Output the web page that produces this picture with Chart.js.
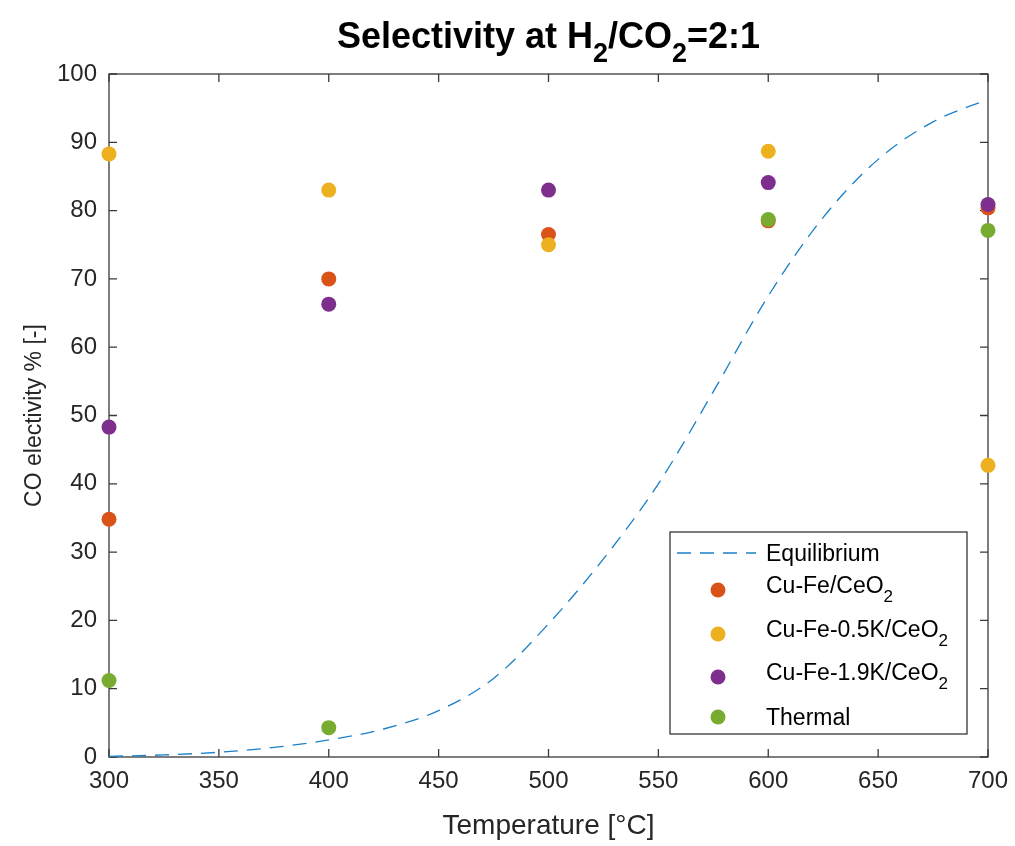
<!DOCTYPE html>
<html>
<head>
<meta charset="utf-8">
<script src="https://cdn.jsdelivr.net/npm/chart.js@4.4.0/dist/chart.umd.min.js"></script>
<style>
    html, body { margin: 0; padding: 0; background: #fff; }
    #wrap { width: 1015px; height: 846px; }
</style>
</head>
<body>
<div id="wrap"><canvas id="graficoSeletividade" width="1015" height="846"></canvas></div>
<script>
// measured selectivity per catalyst (null = no measurement)
const temperaturas = [300, 400, 500, 600, 700];
const cuFe = [34.8, 70.0, 76.5, 78.5, 80.4];
const cuFe05K = [88.3, 83.0, 75.0, 88.7, 42.7];
const cuFe19K = [48.3, 66.3, 83.0, 84.1, 80.9];
const thermal = [11.2, 4.3, null, 78.7, 77.1];

// equilibrium curve
const eqTemperaturas = [300, 325, 350, 375, 400, 425, 450, 475, 500, 525, 550, 575, 600, 625, 650, 675, 700];
const eqValores = [0.1, 0.3, 0.7, 1.4, 2.5, 4.1, 6.8, 11.5, 19.5, 29.0, 40.0, 53.5, 67.5, 79.0, 87.5, 93.0, 96.3];

const xTicks = [300, 350, 400, 450, 500, 550, 600, 650, 700];
const yTicks = [0, 10, 20, 30, 40, 50, 60, 70, 80, 90, 100];

const FONTE = "'Liberation Sans', Arial, Helvetica, sans-serif";
const COR_EIXO = '#262626';

const cores = {
    equilibrio: '#1a80c8',
    cuFe: '#D95319',
    cuFe05K: '#EDB120',
    cuFe19K: '#7E2F8E',
    thermal: '#77AC30',
};

function pontos(xs, ys) {
    return xs.map((x, i) => ({ x: x, y: ys[i] })).filter(p => p.y !== null);
}

// text with subscripts: partes = [[texto, subscrito], ...]
function larguraRica(ctx, partes, tamanho, peso) {
    let w = 0;
    partes.forEach(([t, sub]) => {
        ctx.font = `${peso} ${sub ? Math.round(tamanho * 0.75) : tamanho}px ${FONTE}`;
        w += ctx.measureText(t).width;
    });
    return w;
}

function desenhaRico(ctx, partes, x, y, tamanho, peso, cor) {
    ctx.fillStyle = cor;
    ctx.textBaseline = 'alphabetic';
    ctx.textAlign = 'left';
    let cx = x;
    partes.forEach(([t, sub]) => {
        const tam = sub ? Math.round(tamanho * 0.75) : tamanho;
        ctx.font = `${peso} ${tam}px ${FONTE}`;
        ctx.fillText(t, cx, sub ? y + tamanho * 0.38 : y);
        cx += ctx.measureText(t).width;
    });
}

const molduraEixos = {
    id: 'molduraEixos',
    beforeDatasetsDraw(chart) {
        const { ctx, chartArea: a, scales } = chart;
        const tick = 8;
        ctx.save();
        ctx.strokeStyle = '#3a3a3a';
        ctx.lineWidth = 1.3;
        ctx.strokeRect(a.left, a.top, a.right - a.left, a.bottom - a.top);
        ctx.beginPath();
        xTicks.forEach(v => {
            const px = scales.x.getPixelForValue(v);
            ctx.moveTo(px, a.bottom); ctx.lineTo(px, a.bottom - tick);
            ctx.moveTo(px, a.top); ctx.lineTo(px, a.top + tick);
        });
        yTicks.forEach(v => {
            const py = scales.y.getPixelForValue(v);
            ctx.moveTo(a.left, py); ctx.lineTo(a.left + tick, py);
            ctx.moveTo(a.right, py); ctx.lineTo(a.right - tick, py);
        });
        ctx.stroke();
        ctx.restore();
    }
};

const tituloLegenda = {
    id: 'tituloLegenda',
    afterDraw(chart) {
        const { ctx, chartArea: a } = chart;
        ctx.save();

        // title
        const titulo = [['Selectivity at H', false], ['2', true], ['/CO', false], ['2', true], ['=2:1', false]];
        const tTam = 36;
        const tw = larguraRica(ctx, titulo, tTam, 'bold');
        desenhaRico(ctx, titulo, (a.left + a.right) / 2 - tw / 2, 48, tTam, 'bold', '#000');

        // legend
        const box = { x: 670, y: 532, w: 297, h: 202 };
        ctx.fillStyle = '#fff';
        ctx.fillRect(box.x, box.y, box.w, box.h);
        ctx.strokeStyle = COR_EIXO;
        ctx.lineWidth = 1.2;
        ctx.strokeRect(box.x, box.y, box.w, box.h);

        const lTam = 23;
        const textoX = 766;
        const entradas = [
            { tipo: 'linha', cor: cores.equilibrio, y: 553, texto: [['Equilibrium', false]] },
            { tipo: 'ponto', cor: cores.cuFe, y: 590, texto: [['Cu-Fe/CeO', false], ['2', true]] },
            { tipo: 'ponto', cor: cores.cuFe05K, y: 634, texto: [['Cu-Fe-0.5K/CeO', false], ['2', true]] },
            { tipo: 'ponto', cor: cores.cuFe19K, y: 677, texto: [['Cu-Fe-1.9K/CeO', false], ['2', true]] },
            { tipo: 'ponto', cor: cores.thermal, y: 717, texto: [['Thermal', false]] },
        ];
        entradas.forEach(e => {
            if (e.tipo === 'linha') {
                ctx.strokeStyle = e.cor;
                ctx.lineWidth = 1.3;
                ctx.setLineDash([14, 9]);
                ctx.beginPath();
                ctx.moveTo(677, e.y);
                ctx.lineTo(756, e.y);
                ctx.stroke();
                ctx.setLineDash([]);
            } else {
                ctx.fillStyle = e.cor;
                ctx.beginPath();
                ctx.arc(718, e.y, 7.5, 0, Math.PI * 2);
                ctx.fill();
            }
            const sub = e.texto.length > 1;
            const base = e.y + lTam * 0.36 - (sub ? 5 : 0);
            desenhaRico(ctx, e.texto, textoX, base, lTam, 'normal', '#000');
        });

        ctx.restore();
    }
};

function datasetPontos(label, valores, cor, ordem) {
    return {
        type: 'scatter',
        label: label,
        data: pontos(temperaturas, valores),
        backgroundColor: cor,
        borderColor: cor,
        borderWidth: 0,
        pointRadius: 7.5,
        pointHoverRadius: 7.5,
        clip: false,
        order: ordem,
    };
}

const canvasContext = document.getElementById('graficoSeletividade').getContext('2d');
new Chart(canvasContext, {
    type: 'scatter',
    data: {
        datasets: [
            {
                type: 'line',
                label: 'Equilibrium',
                data: pontos(eqTemperaturas, eqValores),
                borderColor: cores.equilibrio,
                borderWidth: 1.3,
                borderDash: [14, 9],
                pointRadius: 0,
                fill: false,
                cubicInterpolationMode: 'monotone',
                order: 5,
            },
            datasetPontos('Cu-Fe/CeO2', cuFe, cores.cuFe, 4),
            datasetPontos('Cu-Fe-0.5K/CeO2', cuFe05K, cores.cuFe05K, 3),
            datasetPontos('Cu-Fe-1.9K/CeO2', cuFe19K, cores.cuFe19K, 2),
            datasetPontos('Thermal', thermal, cores.thermal, 1),
        ]
    },
    options: {
        responsive: false,
        animation: false,
        layout: {
            padding: { top: 74, right: 27, left: 0, bottom: 0 }
        },
        plugins: {
            legend: { display: false },
            tooltip: { enabled: false },
            title: { display: false },
        },
        scales: {
            x: {
                type: 'linear',
                min: 300,
                max: 700,
                afterBuildTicks: s => { s.ticks = xTicks.map(v => ({ value: v })); },
                afterFit: s => {
                    s.height = 89;
                    s.paddingLeft = 0;
                    s.paddingRight = 0;
                },
                grid: { display: false, drawTicks: false },
                border: { display: false },
                ticks: {
                    color: COR_EIXO,
                    padding: 10,
                    maxRotation: 0,
                    autoSkip: false,
                    font: { family: FONTE, size: 24 },
                },
                title: {
                    display: true,
                    text: 'Temperature [°C]',
                    color: COR_EIXO,
                    font: { family: FONTE, size: 28 },
                    padding: { top: 0, bottom: 3 },
                },
            },
            y: {
                type: 'linear',
                min: 0,
                max: 100,
                afterBuildTicks: s => { s.ticks = yTicks.map(v => ({ value: v })); },
                afterFit: s => {
                    s.width = 109;
                    s.paddingTop = 0;
                    s.paddingBottom = 0;
                },
                grid: { display: false, drawTicks: false },
                border: { display: false },
                ticks: {
                    color: COR_EIXO,
                    padding: 12,
                    autoSkip: false,
                    font: { family: FONTE, size: 24 },
                },
                title: {
                    display: true,
                    text: 'CO electivity % [-]',
                    color: COR_EIXO,
                    font: { family: FONTE, size: 23 },
                    padding: { top: 21, bottom: 0 },
                },
            },
        },
    },
    plugins: [molduraEixos, tituloLegenda],
});
</script>
</body>
</html>
